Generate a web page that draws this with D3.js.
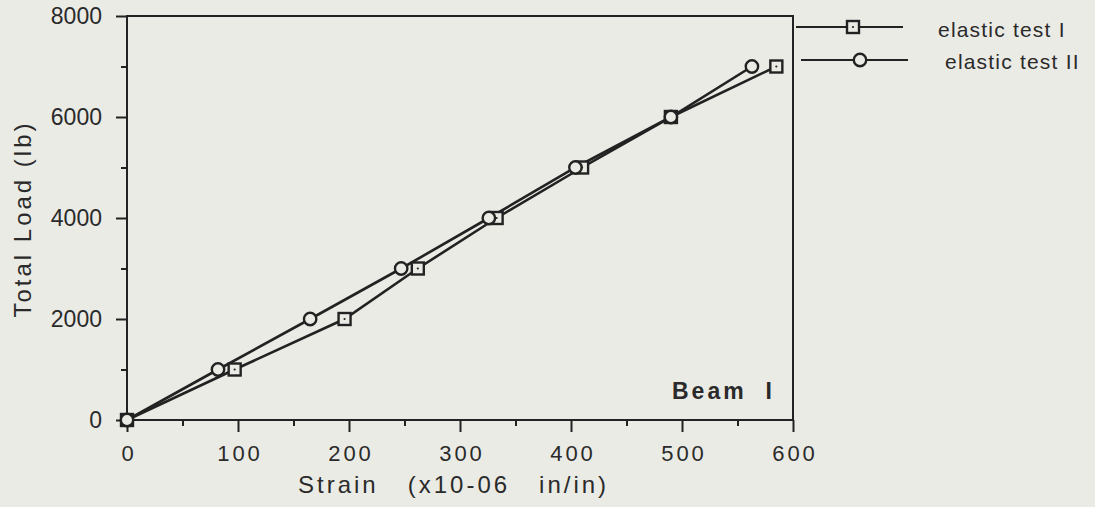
<!DOCTYPE html>
<html>
<head>
<meta charset="utf-8">
<script src="https://cdn.jsdelivr.net/npm/d3@7"></script>
<style>
    body { margin: 0; background: #ebebe6; }
    svg { display: block; font-family: "Liberation Sans", Arial, sans-serif; }
    text { fill: #2a2a2a; white-space: pre; }
</style>
</head>
<body>
<svg width="1095" height="507"></svg>
<script>
// Load test data.
var loads = [0, 1000, 2000, 3000, 4000, 5000, 6000, 7000];
var strainTest1 = [0, 97, 196, 262, 333, 410, 490, 585];
var strainTest2 = [0, 82, 165, 247, 326, 404, 490, 563];

var seriesNames = ["elastic test I", "elastic test II"];
var xTicks = [0, 100, 200, 300, 400, 500, 600];
var xMinor = [50, 150, 250, 350, 450, 550];
var yTicks = [0, 2000, 4000, 6000, 8000];
var yMinor = [1000, 3000, 5000, 7000];

var ink = "#222";
var paper = "#ebebe6";

var svg = d3.select("svg");

var x = d3.scaleLinear().domain([0, 600]).range([127, 793]);
var y = d3.scaleLinear().domain([0, 8000]).range([420, 16]);

// Minor ticks first, no labels.
svg.append("g")
    .attr("transform", "translate(0,420)")
    .call(d3.axisBottom(x).tickValues(xMinor).tickSize(6).tickFormat(""))
    .call(g => g.select(".domain").remove());
svg.append("g")
    .attr("transform", "translate(127,0)")
    .call(d3.axisLeft(y).tickValues(yMinor).tickSize(6).tickFormat(""))
    .call(g => g.select(".domain").remove());

// Major ticks with labels.
var xAxis = svg.append("g")
    .attr("transform", "translate(0,420)")
    .call(d3.axisBottom(x).tickValues(xTicks).tickSize(12).tickPadding(13).tickFormat(d3.format("d")));
xAxis.select(".domain").remove();
xAxis.selectAll("text")
    .attr("font-size", 22)
    .attr("letter-spacing", "3px")
    .attr("dx", "1.5px");

var yAxis = svg.append("g")
    .attr("transform", "translate(127,0)")
    .call(d3.axisLeft(y).tickValues(yTicks).tickSize(11).tickPadding(14).tickFormat(d3.format("d")));
yAxis.select(".domain").remove();
yAxis.selectAll("text").attr("font-size", 23);

svg.selectAll(".tick line").attr("stroke", ink).attr("stroke-width", 2);
svg.selectAll(".tick text").attr("fill", "#2a2a2a").attr("font-family", "Liberation Sans, Arial, sans-serif");

// Plot frame.
svg.append("rect")
    .attr("x", x(0))
    .attr("y", y(8000))
    .attr("width", x(600) - x(0))
    .attr("height", y(0) - y(8000))
    .attr("fill", "none")
    .attr("stroke", ink)
    .attr("stroke-width", 2);

// Axis titles.
svg.append("text")
    .attr("x", 298)
    .attr("y", 493)
    .attr("font-size", 24)
    .attr("letter-spacing", "3px")
    .text("Strain   (x10-06   in/in)");

svg.append("text")
    .attr("transform", "translate(31,219) rotate(-90)")
    .attr("text-anchor", "middle")
    .attr("font-size", 24)
    .attr("letter-spacing", "3px")
    .text("Total Load (lb)");

svg.append("text")
    .attr("x", 672)
    .attr("y", 399)
    .attr("font-size", 23)
    .attr("font-weight", "bold")
    .attr("letter-spacing", "3px")
    .text("Beam  I");

// Series lines and markers.
var line = d3.line()
    .x(d => x(d[0]))
    .y(d => y(d[1]));

var pts1 = strainTest1.map((s, i) => [s, loads[i]]);
var pts2 = strainTest2.map((s, i) => [s, loads[i]]);

function drawLine(pts) {
    svg.append("path")
        .datum(pts)
        .attr("d", line)
        .attr("fill", "none")
        .attr("stroke", ink)
        .attr("stroke-width", 2.6);
}

function drawSquare(g, cx, cy) {
    g.append("rect")
        .attr("x", cx - 6)
        .attr("y", cy - 6)
        .attr("width", 12)
        .attr("height", 12)
        .attr("fill", paper)
        .attr("stroke", ink)
        .attr("stroke-width", 2.4);
    g.append("circle")
        .attr("cx", cx)
        .attr("cy", cy)
        .attr("r", 1.1)
        .attr("fill", ink);
}

function drawCircle(g, cx, cy) {
    g.append("circle")
        .attr("cx", cx)
        .attr("cy", cy)
        .attr("r", 6.2)
        .attr("fill", paper)
        .attr("stroke", ink)
        .attr("stroke-width", 2.4);
}

drawLine(pts1);
drawLine(pts2);

var marks = svg.append("g");
pts1.forEach(d => drawSquare(marks, x(d[0]), y(d[1])));
pts2.forEach(d => drawCircle(marks, x(d[0]), y(d[1])));

// Legend, outside the frame on the right.
var legend = svg.append("g");
var legendRows = [
    { name: seriesNames[0], y: 27, x1: 796, x2: 903, mx: 853, tx: 938, ty: 37, mark: drawSquare },
    { name: seriesNames[1], y: 60, x1: 801, x2: 908, mx: 860, tx: 945, ty: 69, mark: drawCircle }
];
legendRows.forEach(r => {
    legend.append("line")
        .attr("x1", r.x1).attr("x2", r.x2)
        .attr("y1", r.y).attr("y2", r.y)
        .attr("stroke", ink)
        .attr("stroke-width", 2);
    r.mark(legend, r.mx, r.y);
    legend.append("text")
        .attr("x", r.tx)
        .attr("y", r.ty)
        .attr("font-size", 21)
        .attr("letter-spacing", "1.2px")
        .text(r.name);
});
</script>
</body>
</html>
